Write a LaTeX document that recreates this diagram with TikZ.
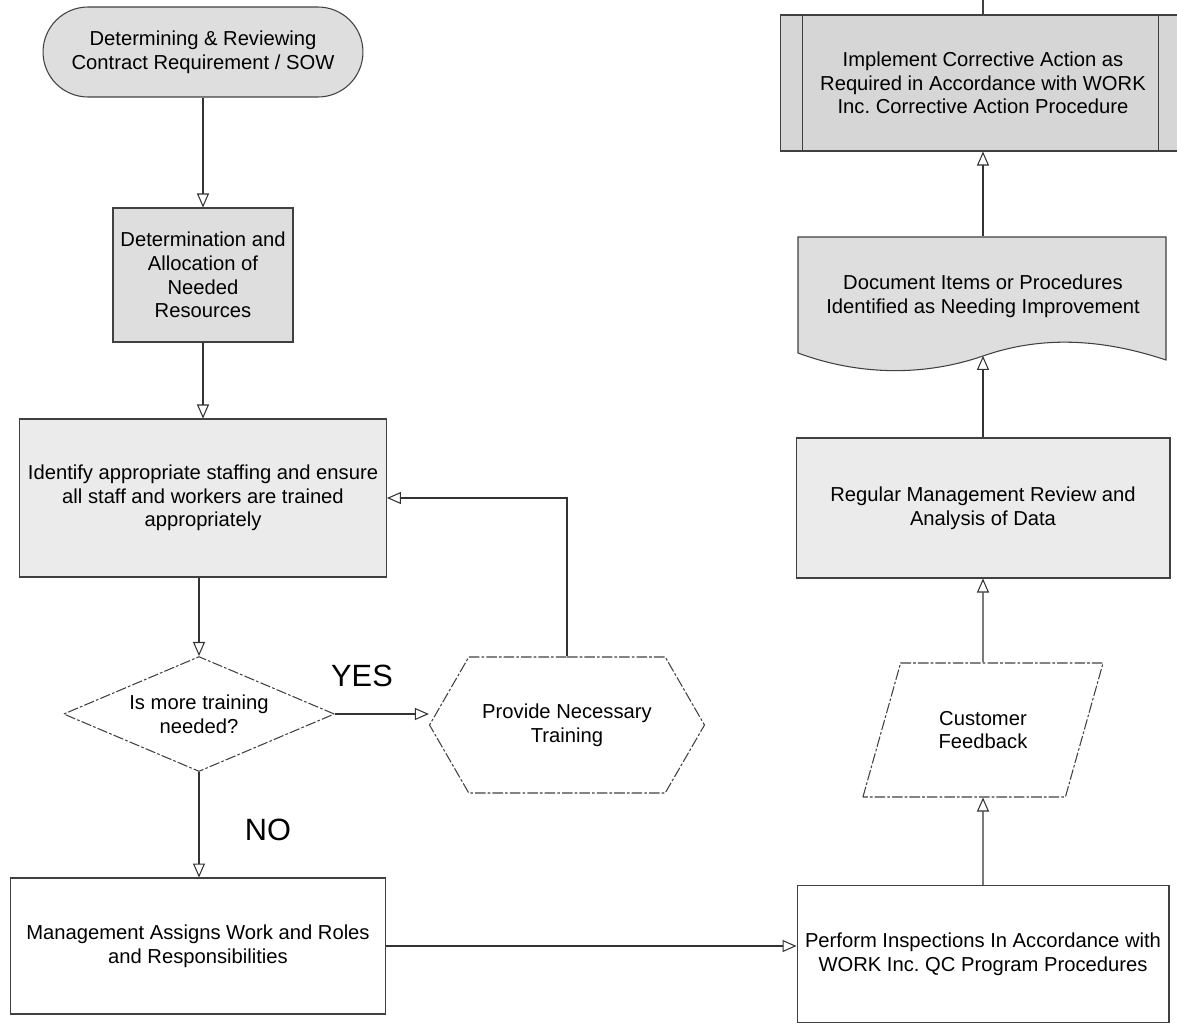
\documentclass[tikz,border=0pt]{standalone}
\usepackage{fontspec}
\setmainfont{Liberation Sans}
\usetikzlibrary{arrows.meta,shapes.geometric,shapes.misc,shapes.symbols,calc}

\begin{document}
\begin{tikzpicture}[x=0.02cm, y=-0.02cm,
	outline/.style={draw=black!75, line width=0.6pt},
	box/.style={outline, align=center, inner sep=2pt, font=\fontsize{11.5}{13.4}\selectfont},
	shaded/.style={box, fill=black!13},
	brokenline/.style={dash pattern=on 6pt off 1.2pt on 1.5pt off 1.2pt},
	flow/.style={draw=black!80, line width=0.6pt, -{Triangle[open, length=2.8mm, width=2.4mm]}},
	answer/.style={font=\fontsize{17.5}{20}\selectfont}]
	\useasboundingbox (0,0) rectangle (1177,1025);
	\begin{scope}
	\node[shaded, rounded corners=0.9cm, minimum width=6.4cm, minimum height=1.8cm] (term) at (203,52) {Determining \& Reviewing\\Contract Requirement / SOW};
	\node[shaded, minimum width=3.6cm, minimum height=2.68cm] (alloc) at (203,275) {Determination and\\Allocation of\\Needed\\Resources};
	\node[box, fill=black!8, minimum width=7.34cm, minimum height=3.16cm] (staff) at (203,498) {Identify appropriate staffing and ensure\\all staff and workers are trained\\appropriately};
	\node[box, brokenline, shape=diamond, aspect=2.36, inner sep=0pt, minimum width=5.42cm, minimum height=2.3cm] (check) at (199,714) {Is more training\\needed?};
	\node[box, brokenline, shape=signal, signal to=east and west, signal pointer angle=120, minimum width=5.5cm, minimum height=2.72cm] (train) at (567,725) {Provide Necessary\\Training};
	\node[box, minimum width=7.5cm, minimum height=2.72cm] (mgmt) at (198,946) {Management Assigns Work and Roles\\and Responsibilities};
	\node[answer] (yes) at (362,676) {YES};
	\node[answer] (no) at (268,830) {NO};
	\end{scope}
	\begin{scope}
	\node[box, minimum width=7.44cm, minimum height=2.74cm] (inspect) at (983,954) {Perform Inspections In Accordance with\\WORK Inc.\ QC Program Procedures};
	\node[box, brokenline, shape=trapezium, trapezium left angle=64, trapezium right angle=116, trapezium stretches=true, minimum width=4.84cm, minimum height=2.68cm] (feed) at (983,730) {Customer\\Feedback};
	\node[box, fill=black!8, minimum width=7.48cm, minimum height=2.8cm] (review) at (983,508) {Regular Management Review and\\Analysis of Data};
	\draw[outline, fill=black!13] (798,237) -- (1166,237) -- (1166,360) .. controls (1100,338) and (1040,336) .. (983,356) .. controls (925,376) and (860,376) .. (798,353) -- cycle;
	\node[align=center, font=\fontsize{11.5}{13.4}\selectfont, minimum width=7.36cm, minimum height=2.38cm] (docu) at (983,296) {Document Items or Procedures\\Identified as Needing Improvement};
	\node[box, fill=black!16, minimum width=8.12cm, minimum height=2.72cm] (impl) at (983,83) {Implement Corrective Action as\\Required in Accordance with WORK\\Inc.\ Corrective Action Procedure};
	\draw[outline] ($(impl.north west)+(23,0)$) -- ($(impl.south west)+(23,0)$);
	\draw[outline] ($(impl.north east)+(-28,0)$) -- ($(impl.south east)+(-28,0)$);
	\coordinate (up) at (983,-20);
	\end{scope}
	\draw[flow] (term.south) -- (alloc.north);
	\draw[flow] (alloc.south) -- (staff.north);
	\draw[flow] (check.north |- staff.south) -- (check.north);
	\draw[flow] (check.east) -- (check.east -| train.west);
	\draw[flow] (train.north) |- (staff.east);
	\draw[flow] (check.south) -- (check.south |- mgmt.north);
	\draw[flow] (mgmt.east) -- (mgmt.east -| inspect.west);
	\draw[flow] (inspect.north) -- (feed.south);
	\draw[flow] (feed.north) -- (review.south);
	\draw[flow] (review.north) -- (docu.south);
	\draw[flow] (docu.north) -- (impl.south);
	\draw[outline] (impl.north) -- (up);
\end{tikzpicture}
\end{document}
